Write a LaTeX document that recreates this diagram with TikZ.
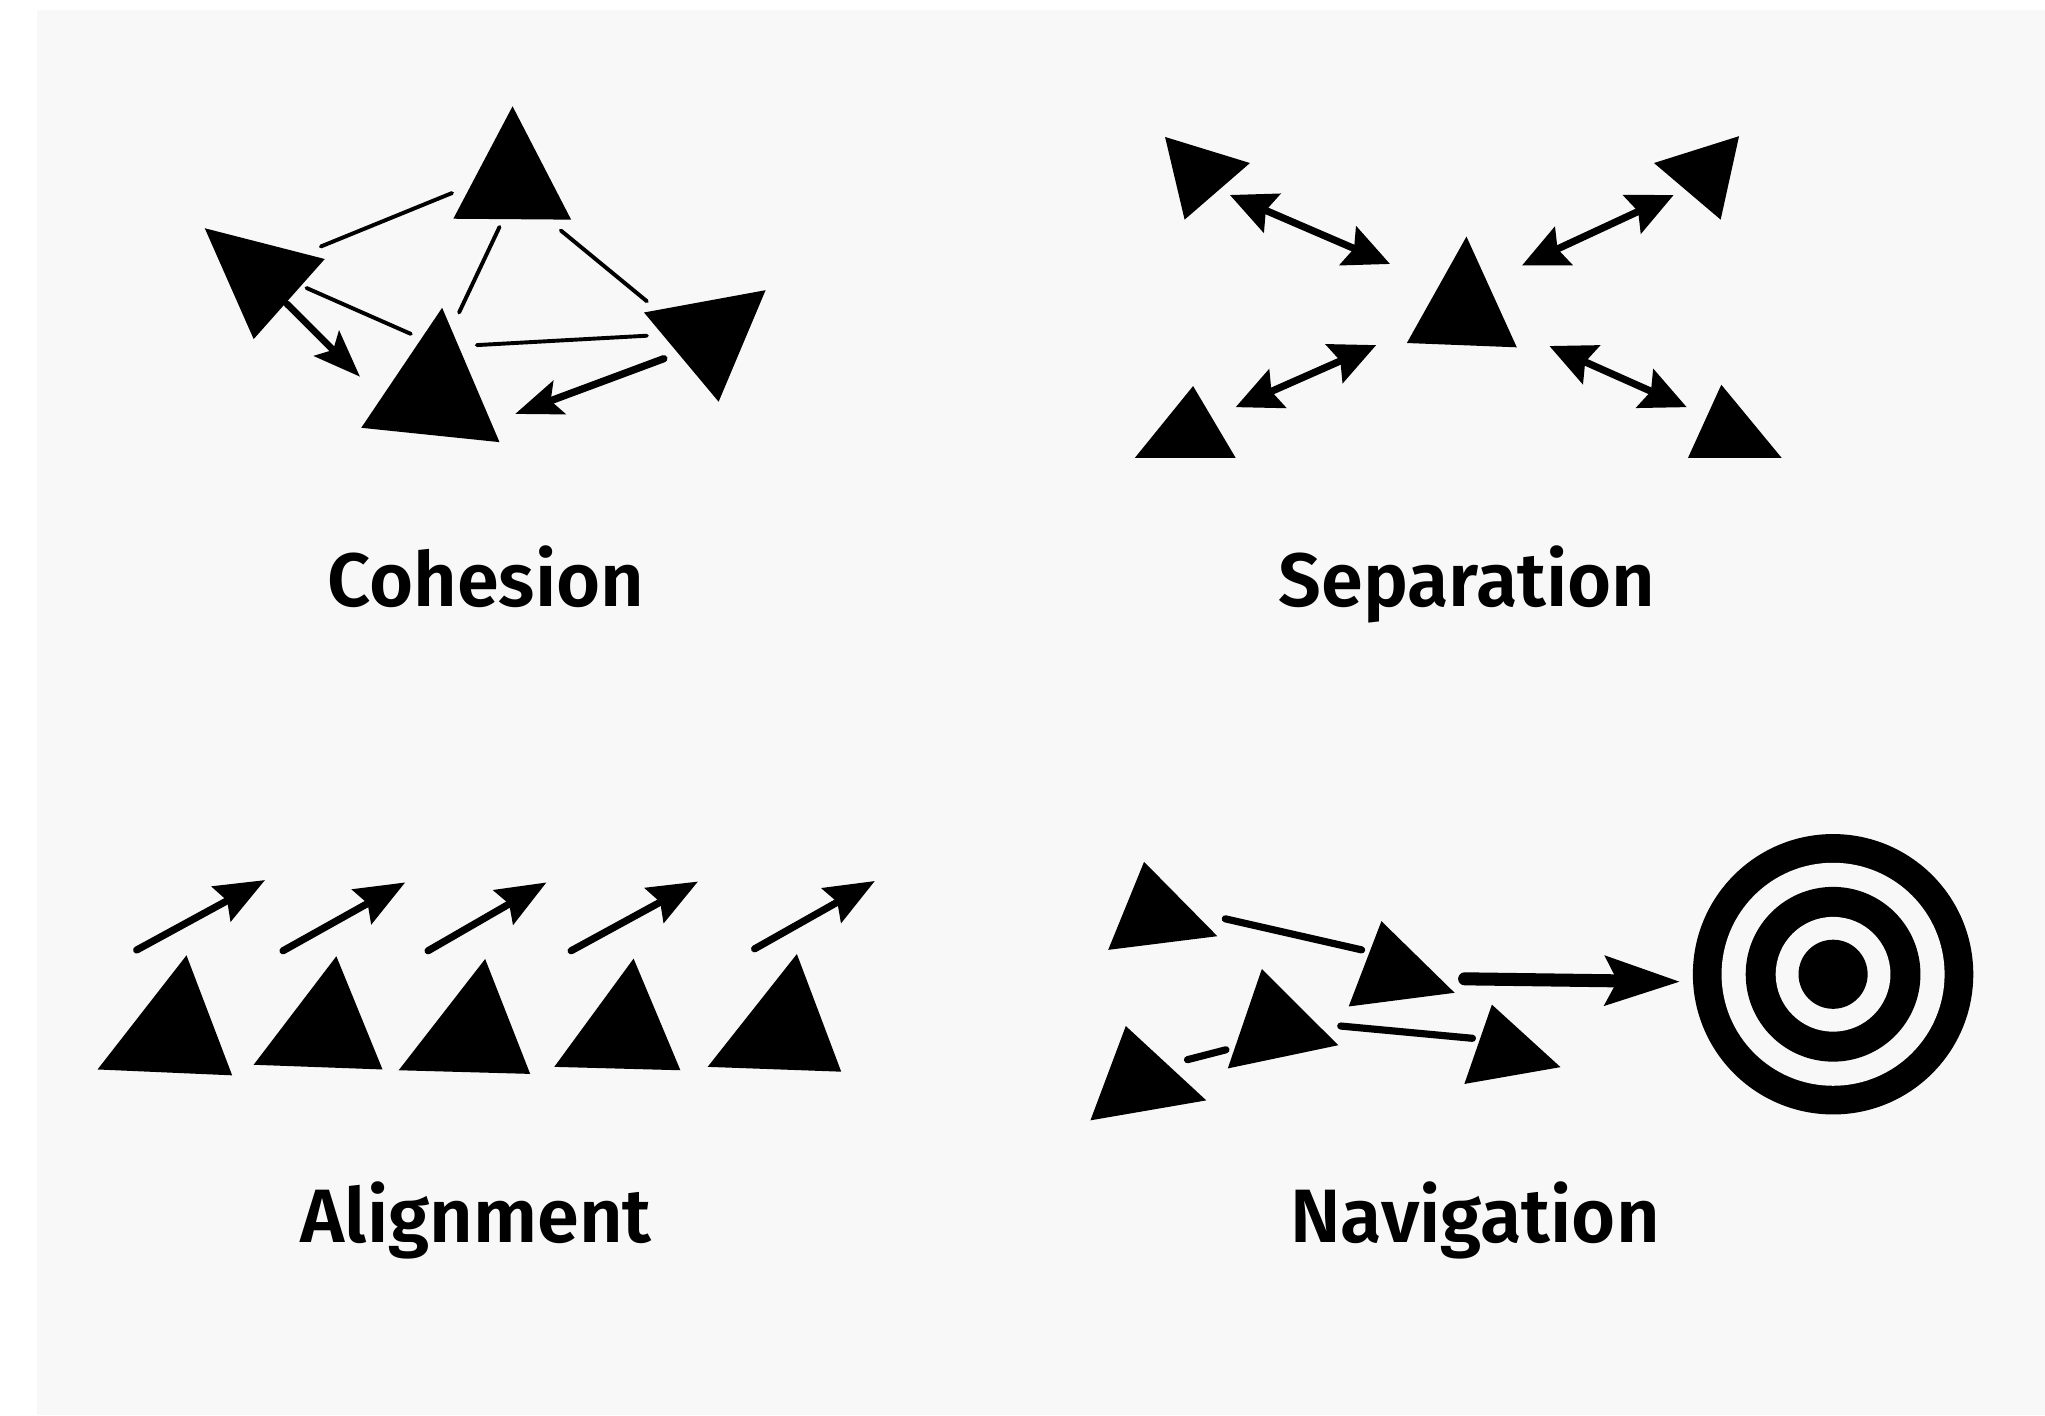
\documentclass[tikz,border=0pt]{standalone}
\usepackage{fontspec}
\setmainfont{Fira Sans}
\newfontfamily\capfont{Fira Sans SemiBold}
\usetikzlibrary{arrows.meta}
\definecolor{bg}{HTML}{F8F8F8}
\tikzset{
  boid/.style={fill=black, line join=round},
  link/.style={draw=black, line width=3pt, line cap=round},
  pull/.style={draw=black, line width=5.2pt, line cap=round, -{Stealth[length=36pt,width=27pt,inset=7pt]}},
  push/.style={draw=black, line width=5.5pt, line cap=round, {Stealth[length=35pt,width=32pt,inset=5pt]}-{Stealth[length=35pt,width=32pt,inset=5pt]}},
  head/.style={draw=black, line width=5.5pt, line cap=round, -{Stealth[length=38pt,width=30pt,inset=5pt]}},
  trail/.style={draw=black, line width=5.5pt, line cap=round},
  goal/.style={draw=black, line width=10pt, line cap=round, -{Stealth[length=57pt,width=37pt,inset=9pt]}},
  caption/.style={anchor=base, inner sep=0pt, font=\capfont\fontsize{58}{60}\selectfont}
}
\begin{document}
\begin{tikzpicture}[x=1pt,y=-1pt]
\useasboundingbox (0,0) rectangle (1568,1085);
\fill[white] (0,0) rectangle (1568,1085);
\fill[bg] (28,8) rectangle (1568,1085);

% ---------------- Cohesion ----------------
\fill[boid] (393,81.5) -- (347.6,167.7) -- (437.9,168.4) -- cycle;
\fill[boid] (157,175) -- (249,198.6) -- (194.5,260) -- cycle;
\fill[boid] (339,236) -- (277,328) -- (383,339) -- cycle;
\fill[boid] (493.8,239.6) -- (587,222.5) -- (551,308) -- cycle;
\coordinate (c1a) at (246,189);   \coordinate (c1b) at (346.6,148);
\coordinate (c2a) at (383,174);   \coordinate (c2b) at (352,239.6);
\coordinate (c3a) at (430,176.7); \coordinate (c3b) at (496,231);
\coordinate (c4a) at (235,220.8); \coordinate (c4b) at (315,256);
\coordinate (c5a) at (365.6,264.6); \coordinate (c5b) at (496,257.4);
\draw[link] (c1a) -- (c1b);
\draw[link] (c2a) -- (c2b);
\draw[link] (c3a) -- (c3b);
\draw[link] (c4a) -- (c4b);
\draw[link] (c5a) -- (c5b);
\coordinate (ca1) at (220,233); \coordinate (ca2) at (276,288.8);
\coordinate (cb1) at (509,275); \coordinate (cb2) at (395,317.4);
\draw[pull] (ca1) -- (ca2);
\draw[pull, line width=5.6pt] (cb1) -- (cb2);
\node[caption] (tcoh) at (372.5,465) {Cohesion};

% ---------------- Separation ----------------
\fill[boid] (1124.4,181.4) -- (1078.7,263) -- (1163,266.3) -- cycle;
\fill[boid] (893.3,105) -- (958.4,125) -- (908.3,168.4) -- cycle;
\fill[boid] (1333.4,104.4) -- (1268.2,125) -- (1319.3,168.4) -- cycle;
\fill[boid] (914.8,296) -- (870.2,351) -- (947.4,351) -- cycle;
\fill[boid] (1319.8,295) -- (1294.3,351) -- (1366,351) -- cycle;
\coordinate (s1a) at (943,149.5);  \coordinate (s1b) at (1065.8,202.4);
\coordinate (s2a) at (1283.3,149.5); \coordinate (s2b) at (1167,203.5);
\coordinate (s3a) at (947.4,312.2); \coordinate (s3b) at (1055.2,264.6);
\coordinate (s4a) at (1188,265.3); \coordinate (s4b) at (1293.3,312.2);
\draw[push] (s1a) -- (s1b);
\draw[push] (s2a) -- (s2b);
\draw[push] (s3a) -- (s3b);
\draw[push] (s4a) -- (s4b);
\node[caption] (tsep) at (1125,465) {Separation};

% ---------------- Alignment ----------------
\fill[boid] (143,732.5) -- (74.8,820) -- (178,824.5) -- cycle;
\fill[boid] (257.9,733.2) -- (194.5,816.4) -- (293.3,820) -- cycle;
\fill[boid] (372,735.3) -- (305.7,820.6) -- (406.5,823.4) -- cycle;
\fill[boid] (485.8,735) -- (425,818) -- (521.7,820.6) -- cycle;
\fill[boid] (611,731.5) -- (542.6,818) -- (645,821.7) -- cycle;
\coordinate (a1s) at (104.8,728.4); \coordinate (a1t) at (203.2,674.8);
\coordinate (a2s) at (217,729);     \coordinate (a2t) at (310.7,676.6);
\coordinate (a3s) at (328.2,729);   \coordinate (a3t) at (419,676.6);
\coordinate (a4s) at (437.9,729);   \coordinate (a4t) at (535.2,675.9);
\coordinate (a5s) at (578.6,727.5); \coordinate (a5t) at (670.8,675.5);
\draw[head] (a1s) -- (a1t);
\draw[head] (a2s) -- (a2t);
\draw[head] (a3s) -- (a3t);
\draw[head] (a4s) -- (a4t);
\draw[head] (a5s) -- (a5t);
\node[caption] (tali) at (365,953) {Alignment};

% ---------------- Navigation ----------------
\fill[boid] (877.2,660.8) -- (849.7,728.3) -- (933.4,717.8) -- cycle;
\fill[boid] (1059.2,706.3) -- (1034.1,771.7) -- (1115.3,761.2) -- cycle;
\fill[boid] (967.5,743) -- (941.4,819.2) -- (1026.1,801.4) -- cycle;
\fill[boid] (863.2,786.7) -- (836.1,859) -- (924.9,843.7) -- cycle;
\fill[boid] (1143.9,770.3) -- (1122.8,831.1) -- (1196.5,818.2) -- cycle;
\coordinate (n1a) at (939.5,704.5); \coordinate (n1b) at (1044,728.3);
\coordinate (n2a) at (910.5,812.5); \coordinate (n2b) at (940,804.9);
\coordinate (n3a) at (1028,786.7); \coordinate (n3b) at (1129,796.1);
\draw[trail] (n1a) -- (n1b);
\draw[trail] (n2a) -- (n2b);
\draw[trail] (n3a) -- (n3b);
\coordinate (tgt) at (1405.5,747);
\fill[black] (tgt) circle[radius=107.5];
\fill[bg] (tgt) circle[radius=85.5];
\fill[black] (tgt) circle[radius=67];
\fill[bg] (tgt) circle[radius=44];
\fill[black] (tgt) circle[radius=26.5];
\coordinate (ga) at (1123,750.5); \coordinate (gb) at (1288.2,752.7);
\draw[goal] (ga) -- (gb);
\node[caption] (tnav) at (1131,953) {Navigation};
\end{tikzpicture}
\end{document}
